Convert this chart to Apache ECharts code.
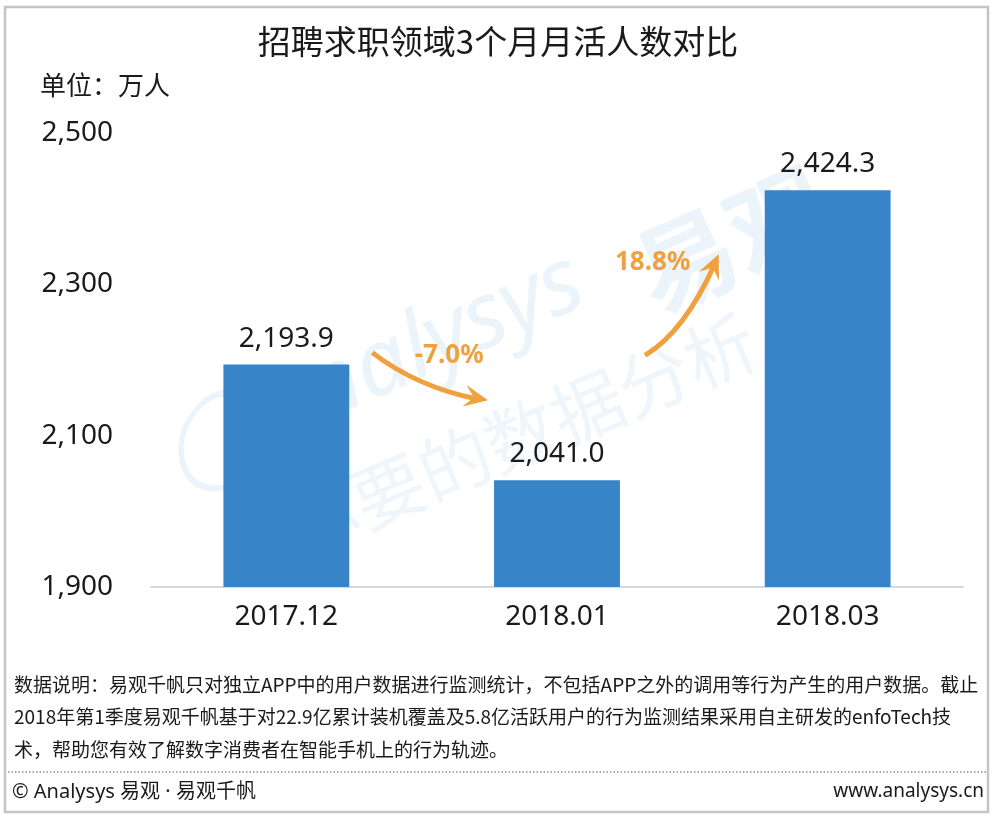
<!DOCTYPE html>
<html>
<head>
<meta charset="utf-8">
<script src="https://cdn.jsdelivr.net/npm/echarts@6/dist/echarts.min.js"></script>
<style>
html,body{margin:0;padding:0;background:#fff;}
#chart{width:996px;height:818px;}
</style>
</head>
<body>
<div id="chart"></div>
<script>
const categories = ['2017.12', '2018.01', '2018.03'];
const values = [2193.9, 2041.0, 2424.3];
const changes = ['-7.0%', '18.8%'];
const yTicks = { min: 1900, max: 2500, interval: 200 };
const titleText = '招聘求职领域3个月月活人数对比';
const unitText = '单位：万人';
const noteLines = [
  '数据说明：易观千帆只对独立APP中的用户数据进行监测统计，不包括APP之外的调用等行为产生的用户数据。截止',
  '2018年第1季度易观千帆基于对22.9亿累计装机覆盖及5.8亿活跃用户的行为监测结果采用自主研发的enfoTech技',
  '术，帮助您有效了解数字消费者在智能手机上的行为轨迹。'
];
const footerLeft = '© Analysys 易观 · 易观千帆';
const footerRight = 'www.analysys.cn';

const FONT = "'Noto Sans', 'Noto Sans CJK SC', sans-serif";
const CJK = "'Noto Sans CJK SC', 'Noto Sans', sans-serif";
const ORANGE = '#f0a03c';
const fmt = v => v.toLocaleString('en-US', {minimumFractionDigits: 1, maximumFractionDigits: 1});

const chart = echarts.init(document.getElementById('chart'));
const option = {
  backgroundColor: '#fff',
  animation: false,
  title: {
    text: titleText, left: 'center', top: 25, padding: 0,
    textStyle: { fontFamily: CJK, fontSize: 33, fontWeight: 'normal', color: '#1a1a1a' }
  },
  grid: { left: 151, right: 33, top: 133, bottom: 231 },
  xAxis: {
    type: 'category', data: categories,
    axisLine: { lineStyle: { color: '#d9d9d9', width: 2 } },
    axisTick: { show: false },
    axisLabel: { fontFamily: FONT, fontSize: 28, color: '#1a1a1a', margin: 16 }
  },
  yAxis: {
    type: 'value', min: yTicks.min, max: yTicks.max, interval: yTicks.interval,
    axisLine: { show: false }, axisTick: { show: false }, splitLine: { show: false },
    axisLabel: {
      fontFamily: FONT, fontSize: 28, color: '#1a1a1a', margin: 38,
      formatter: v => v.toLocaleString('en-US')
    }
  },
  series: [{
    type: 'bar', data: values, barWidth: '46.5%',
    itemStyle: { color: '#3784c8' },
    label: {
      show: true, position: 'top', distance: 12,
      fontFamily: FONT, fontSize: 28, color: '#1a1a1a',
      formatter: p => fmt(p.value)
    },
    z: 3
  }],
  graphic: []
};
chart.setOption(option);

// annotations positioned relative to the bars
const p = values.map((v, i) => chart.convertToPixel({ seriesIndex: 0 }, [i, v]));
const barHalf = 63;

function arrowHead(tip, dir, len, wid) {
  const a = Math.atan2(dir[1], dir[0]);
  const bx = tip[0] - len * Math.cos(a), by = tip[1] - len * Math.sin(a);
  const nx = -Math.sin(a) * wid / 2, ny = Math.cos(a) * wid / 2;
  return [[tip[0], tip[1]], [bx + nx, by + ny], [tip[0] - len * 0.6 * Math.cos(a), tip[1] - len * 0.6 * Math.sin(a)], [bx - nx, by - ny]];
}

const s1 = [p[0][0] + barHalf + 23, p[0][1] - 12];
const e1 = [p[1][0] - 69, p[1][1] - 80];
const c1 = [p[0][0] + barHalf + 67, p[0][1] + 22];
const s2 = [p[1][0] + 88, p[1][1] - 125];
const e2 = [p[2][0] - 109, p[2][1] + 64];
const c2 = [p[1][0] + 127, p[1][1] - 148];

const graphics = [
  { type: 'rect', shape: { x: 5, y: 7, width: 983, height: 805 }, style: { fill: 'none', stroke: '#c4c4c4', lineWidth: 2.5 }, z: 0 },
  { type: 'text', x: 150, y: 420, rotation: 0.42, style: { text: '◯Analysys', font: "italic 92px 'Noto Sans', sans-serif", fill: '#ebf3fb' }, z: 1, silent: true },
  { type: 'text', x: 620, y: 235, rotation: 0.42, style: { text: '易观', font: "bold 100px 'Noto Sans CJK SC', sans-serif", fill: '#ebf3fb' }, z: 1, silent: true },
  { type: 'text', x: 275, y: 500, rotation: 0.4, style: { text: '你要的数据分析', font: "72px 'Noto Sans CJK SC', sans-serif", fill: '#eef5fb' }, z: 1, silent: true },
  { type: 'bezierCurve', shape: { x1: s1[0], y1: s1[1], x2: e1[0] - 10, y2: e1[1] - 1, cpx1: c1[0], cpy1: c1[1] }, style: { stroke: ORANGE, lineWidth: 5, fill: 'none' }, z: 10 },
  { type: 'polygon', shape: { points: arrowHead(e1, [e1[0] - c1[0], e1[1] - c1[1]], 24, 22) }, style: { fill: ORANGE }, z: 10 },
  { type: 'bezierCurve', shape: { x1: s2[0], y1: s2[1], x2: e2[0] - 4, y2: e2[1] + 10, cpx1: c2[0], cpy1: c2[1] }, style: { stroke: ORANGE, lineWidth: 5, fill: 'none' }, z: 10 },
  { type: 'polygon', shape: { points: arrowHead(e2, [e2[0] - c2[0], e2[1] - c2[1]], 24, 22) }, style: { fill: ORANGE }, z: 10 },
  { type: 'text', x: (s1[0] + e1[0]) / 2 + 19, y: s1[1] + 3, style: { text: changes[0], font: "bold 26px 'Noto Sans', sans-serif", fill: ORANGE, textAlign: 'center', textVerticalAlign: 'middle' }, z: 10 },
  { type: 'text', x: p[2][0] - 175, y: p[2][1] + 72, style: { text: changes[1], font: "bold 26px 'Noto Sans', sans-serif", fill: ORANGE, textAlign: 'center', textVerticalAlign: 'middle' }, z: 10 },
  { type: 'text', left: 40, top: 72, style: { text: unitText, font: "26px 'Noto Sans CJK SC', sans-serif", fill: '#1a1a1a' }, z: 10 },
  { type: 'line', shape: { x1: 8, y1: 772, x2: 986, y2: 772 }, style: { stroke: '#8c8c8c', lineWidth: 1.5, lineDash: [1.5, 2] }, z: 10 },
  { type: 'text', left: 12, top: 782, style: { text: footerLeft, font: "20px 'Noto Sans', 'Noto Sans CJK SC', sans-serif", fill: '#1a1a1a' }, z: 10 },
  { type: 'text', right: 12, top: 782, style: { text: footerRight, font: "19px 'Noto Sans', sans-serif", fill: '#1a1a1a' }, z: 10 }
];
noteLines.forEach((t, i) => {
  graphics.push({ type: 'text', left: 14, top: 675 + i * 32.5, style: { text: t, font: "19px 'Noto Sans CJK SC', sans-serif", fill: '#1a1a1a' }, z: 10 });
});
chart.setOption({ graphic: graphics });
</script>
</body>
</html>
